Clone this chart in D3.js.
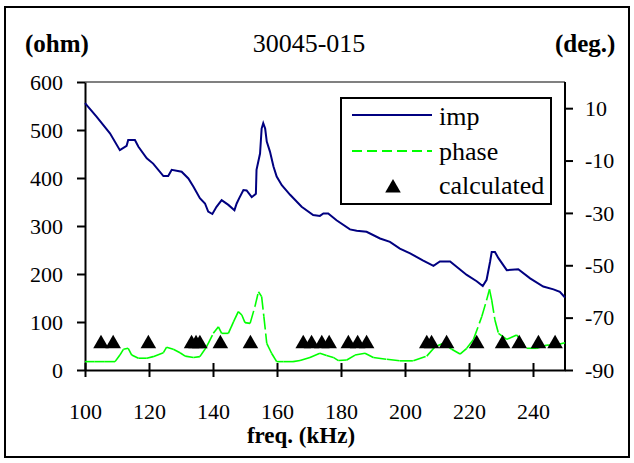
<!DOCTYPE html>
<html>
<head>
<meta charset="utf-8">
<script src="https://cdn.jsdelivr.net/npm/d3@7"></script>
<style>
  body { margin: 0; background: #fff; }
</style>
</head>
<body>
<script>
// impedance curve (kHz, ohm)
const impFreq = [100, 103.6, 107.8, 110.9, 113, 113.5, 115.6, 116.7, 119.3, 121.3, 124.5, 126, 127.1, 130.2, 132.3, 133.9, 135.9, 137.5, 138.5, 139.8, 141.1, 142.7, 144.8, 146.7, 147.4, 148.2, 149.5, 150.5, 152.1, 153.4, 153.6, 154.7, 155.2, 155.7, 156.3, 156.8, 157.8, 158.9, 159.9, 161.5, 164.1, 167.7, 171.3, 173.4, 174.5, 176, 178.6, 182.8, 184.9, 188, 192.2, 195.3, 198.4, 201.6, 205.7, 208.9, 210.9, 214.1, 219.3, 222.4, 224.3, 225.5, 226.6, 227.1, 228.1, 229.2, 231.8, 235.4, 239.1, 243.2, 246.4, 248.4, 250];
const impVal = [556, 528, 493, 458, 467, 479, 479, 465, 441, 430, 404, 404, 417, 413, 399, 382, 358, 347, 330, 325, 340, 354, 344, 333, 347, 358, 375, 374, 360, 367, 417, 451, 503, 514, 503, 476, 455, 424, 403, 385, 365, 340, 323, 321, 326, 326, 312, 293, 290, 288, 274, 267, 253, 243, 228, 217, 226, 226, 198, 185, 175, 188, 226, 246, 246, 233, 208, 210, 191, 174, 168, 163, 151];

// phase curve (kHz, deg)
const phaseFreq = [100, 103, 106, 109.4, 110.9, 112, 113.5, 114.6, 116.7, 119.3, 121.3, 124.5, 125.5, 127.6, 129.7, 131.3, 133.9, 135.9, 138, 140.1, 141.7, 142.7, 144.8, 146.4, 147.9, 149, 150, 151.6, 153.1, 154.2, 155.2, 155.9, 156.8, 158.3, 159.9, 162, 165, 167.2, 170.3, 173.4, 175.5, 177.6, 179.2, 181.8, 184.4, 187.5, 190.1, 194.3, 198.4, 202.6, 206.8, 209.4, 212, 214.6, 217.2, 219.3, 221.4, 224, 225.5, 226.4, 227.1, 228.1, 229.2, 231.8, 234.9, 238, 241.2, 244.3, 246.9, 250];
const phaseVal = [-86.8, -86.8, -86.8, -86.8, -84.3, -82.1, -81.7, -84.3, -85.5, -85.5, -84.9, -83.4, -81.3, -82.1, -83.4, -84.7, -85.2, -84.9, -81.1, -76, -73.5, -76, -76, -71.6, -67.7, -69, -71.9, -72.2, -65.8, -60.1, -62, -69.6, -79.8, -83.6, -86.8, -86.8, -86.8, -86.4, -85.2, -83.6, -84.5, -85.2, -86.4, -86.2, -84.3, -83.6, -85.2, -85.9, -86.5, -86.5, -84.7, -81.1, -79.8, -82.1, -83.9, -81.7, -78.3, -69.6, -63.3, -59.2, -63.3, -70.9, -76, -78.3, -76.6, -81.7, -81.7, -80.5, -80.5, -79.6];

// calculated points (kHz, deg)
const calcFreq = [105, 108.8, 119.8, 133.3, 134.7, 135.9, 142.3, 151.7, 168.2, 170.8, 174, 176.3, 182.3, 185.2, 188, 206.8, 208.3, 213, 222.4, 230.5, 235.7, 241.7, 246.9];
const calcVal = calcFreq.map(() => -80);

const xTicks = [100, 120, 140, 160, 180, 200, 220, 240];
const yLeftTicks = [0, 100, 200, 300, 400, 500, 600];
const yRightTicks = [-90, -70, -50, -30, -10, 10];

const FONT = "'Liberation Serif', 'DejaVu Serif', 'Times New Roman', Times, serif";
const W = 634, H = 463;
const m = {left: 85, right: 69, top: 82, bottom: 93};
const pw = W - m.left - m.right, ph = H - m.top - m.bottom;

const svg = d3.select('body').append('svg')
    .attr('width', W)
    .attr('height', H)
    .attr('font-family', FONT);

svg.append('rect')
    .attr('x', 5).attr('y', 7)
    .attr('width', 624).attr('height', 450)
    .attr('fill', '#fff')
    .attr('stroke', '#000')
    .attr('stroke-width', 2);

const g = svg.append('g').attr('transform', `translate(${m.left},${m.top})`);

const x = d3.scaleLinear().domain([100, 250]).range([0, pw]);
const yL = d3.scaleLinear().domain([0, 600]).range([ph, 0]);
const yR = d3.scaleLinear().domain([-90, 20]).range([ph, 0]);

// top frame line
g.append('line')
    .attr('x1', 0).attr('x2', pw)
    .attr('y1', 0).attr('y2', 0)
    .attr('stroke', '#808080')
    .attr('stroke-width', 2);

// axes (plain hyphen for negatives)
const fmt = d => String(d);
const axL = g.append('g')
    .call(d3.axisLeft(yL).tickValues(yLeftTicks).tickFormat(fmt).tickSize(8).tickSizeOuter(0).tickPadding(14));
const axR = g.append('g')
    .attr('transform', `translate(${pw},0)`)
    .call(d3.axisRight(yR).tickValues(yRightTicks).tickFormat(fmt).tickSize(8).tickSizeOuter(0).tickPadding(12));
const axB = g.append('g')
    .attr('transform', `translate(0,${ph})`)
    .call(d3.axisBottom(x).tickValues(xTicks).tickFormat(fmt).tickSize(7).tickSizeOuter(0));
axB.selectAll('.tick line').attr('y1', -7);
axB.selectAll('.tick text').attr('y', 49).attr('dy', 0);
axR.select('.domain').attr('d', `M0,0V${ph}`);

[axL, axR, axB].forEach(a => {
    a.attr('font-family', FONT).attr('font-size', 22);
    a.select('.domain').attr('stroke', '#000').attr('stroke-width', 2);
    a.selectAll('.tick line').attr('stroke', '#000').attr('stroke-width', 2);
    a.selectAll('.tick text').attr('fill', '#000');
});
axL.selectAll('.tick text').attr('dy', '0.33em');
axR.selectAll('.tick text').attr('dy', '0.33em');

// impedance line
const impData = impFreq.map((f, i) => [f, impVal[i]]);
g.append('path')
    .datum(impData)
    .attr('fill', 'none')
    .attr('stroke', '#000080')
    .attr('stroke-width', 2)
    .attr('d', d3.line().x(d => x(d[0])).y(d => yL(d[1])));

// phase line, dashes restart on each segment
const phaseData = phaseFreq.map((f, i) => [f, phaseVal[i]]);
const segs = d3.pairs(phaseData);
g.append('g').selectAll('line')
    .data(segs)
    .join('line')
    .attr('x1', d => x(d[0][0])).attr('y1', d => yR(d[0][1]))
    .attr('x2', d => x(d[1][0])).attr('y2', d => yR(d[1][1]))
    .attr('stroke', '#00ff00')
    .attr('stroke-width', 1.6)
    .attr('stroke-dasharray', '13,4');

// calculated triangles
const tri = d3.symbol(d3.symbolTriangle, 105);
g.append('g').selectAll('path')
    .data(calcFreq.map((f, i) => [f, calcVal[i]]))
    .join('path')
    .attr('transform', d => `translate(${x(d[0])},${yR(d[1])})`)
    .attr('d', tri)
    .attr('fill', '#000');

// legend
const lg = svg.append('g');
lg.append('rect')
    .attr('x', 341).attr('y', 98)
    .attr('width', 210).attr('height', 106)
    .attr('fill', '#fff')
    .attr('stroke', '#000')
    .attr('stroke-width', 2);
lg.append('line')
    .attr('x1', 352).attr('x2', 432).attr('y1', 115).attr('y2', 115)
    .attr('stroke', '#000080').attr('stroke-width', 2);
lg.append('line')
    .attr('x1', 352).attr('x2', 432).attr('y1', 151).attr('y2', 151)
    .attr('stroke', '#00ff00').attr('stroke-width', 2)
    .attr('stroke-dasharray', '10,5');
lg.append('path')
    .attr('transform', 'translate(393,188)')
    .attr('d', tri)
    .attr('fill', '#000');
[['imp', 125], ['phase', 160], ['calculated', 194]].forEach(([t, yy]) => {
    lg.append('text').attr('x', 439).attr('y', yy)
        .attr('font-size', 26).text(t);
});

// titles
svg.append('text').attr('x', 309).attr('y', 52)
    .attr('text-anchor', 'middle').attr('font-size', 26).text('30045-015');
svg.append('text').attr('x', 25).attr('y', 52)
    .attr('font-size', 25).attr('font-weight', 'bold').text('(ohm)');
svg.append('text').attr('x', 555).attr('y', 52)
    .attr('font-size', 25).attr('font-weight', 'bold').text('(deg.)');
svg.append('text').attr('x', 301).attr('y', 443)
    .attr('text-anchor', 'middle').attr('font-size', 23).attr('font-weight', 'bold')
    .text('freq. (kHz)');
</script>
</body>
</html>
